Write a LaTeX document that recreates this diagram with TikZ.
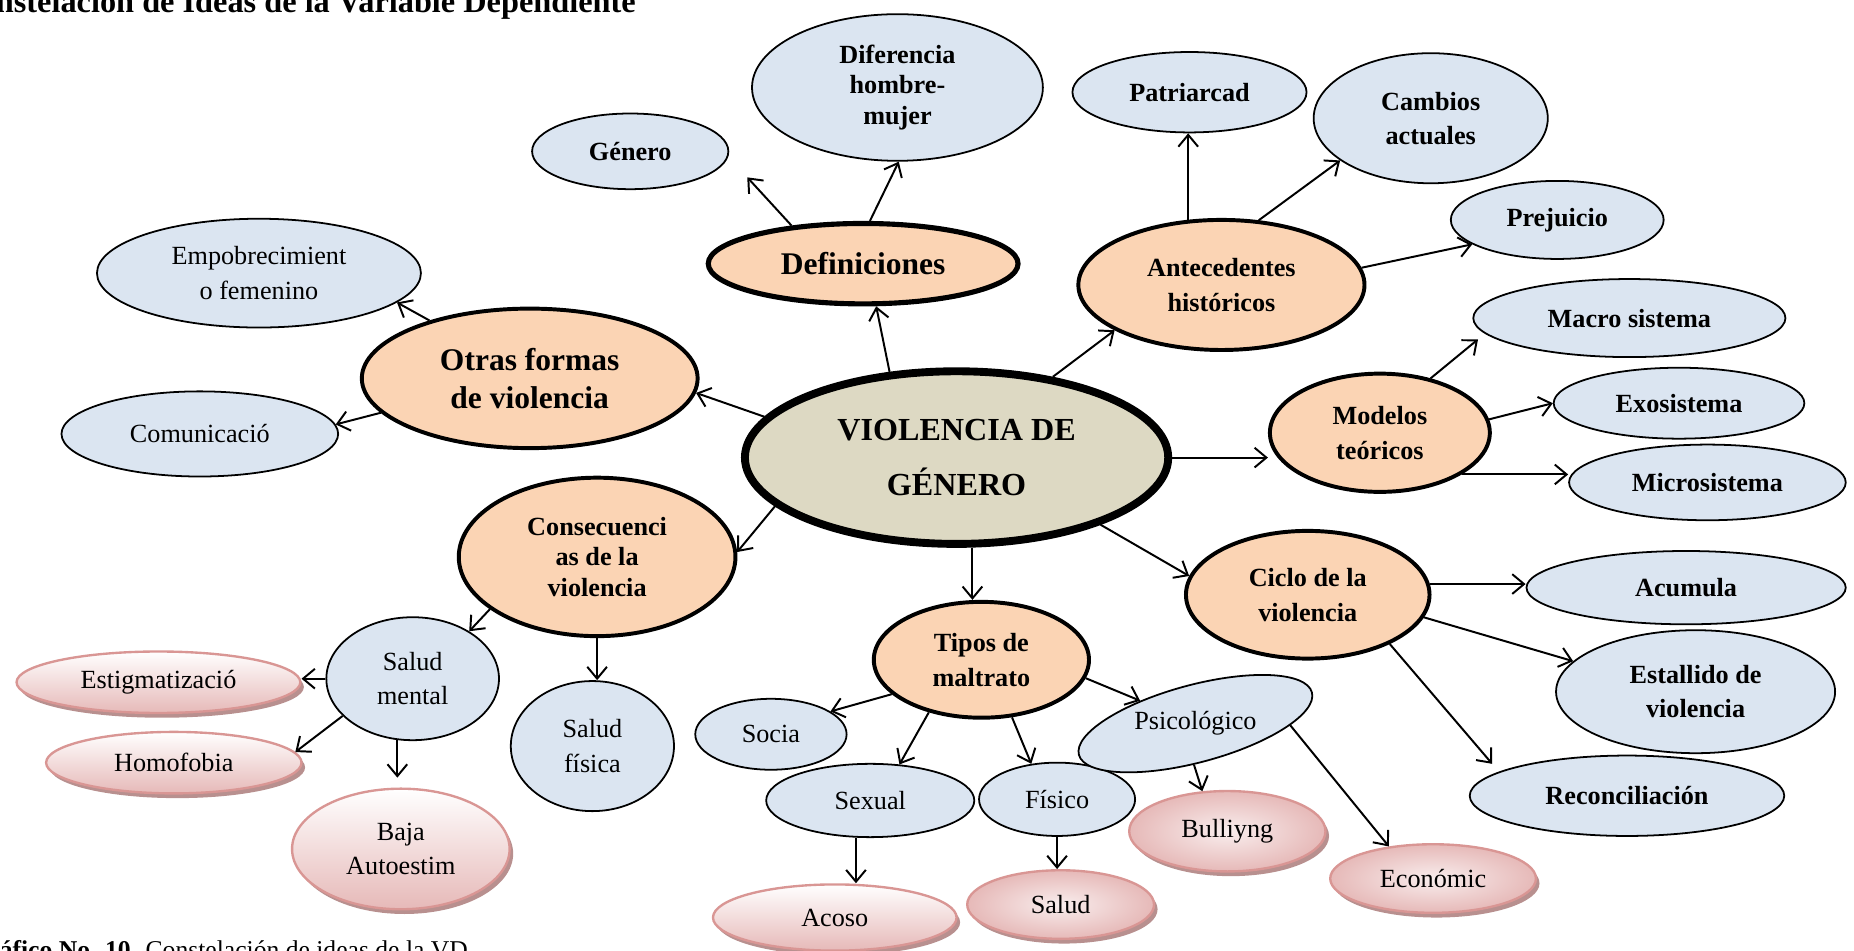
\documentclass[tikz,border=0pt]{standalone}
\usepackage{fontspec}
\setmainfont{Liberation Serif}
\usetikzlibrary{shapes.geometric,arrows.meta,shadows}

\definecolor{bluefill}{HTML}{DBE5F1}
\definecolor{orangefill}{HTML}{FBD4B4}
\definecolor{tanfill}{HTML}{DDD9C3}
\definecolor{pinkfill}{HTML}{E6B9B8}
\definecolor{pinkline}{HTML}{D99694}
\definecolor{pinkshade}{RGB}{184,144,143}

\tikzset{
  sz/.style 2 args={minimum width=2*#1*0.6pt, minimum height=2*#2*0.6pt},
  big/.style={font=\fontsize{16}{19.5}\selectfont\bfseries},
}

\begin{document}
\begin{tikzpicture}[x=0.6pt,y=-0.6pt]
\useasboundingbox (0,0) rectangle (1568,804);
\node[anchor=base east,inner sep=0,font=\fontsize{16.4}{20}\selectfont\bfseries] (title) at (538,11) {Constelación de Ideas de la Variable Dependiente};
\node[anchor=base west,inner sep=0,font=\fontsize{13}{16}\selectfont] (caption) at (-27,811) {\textbf{Gráfico No. 10.} Constelación de ideas de la VD.};

\node[ellipse,draw,line width=4pt,fill=tanfill,sz={179}{73},inner sep=0,align=center,font=\fontsize{16.3}{27.6}\selectfont\bfseries] (V) at (809,387) {VIOLENCIA DE\\GÉNERO};

\begin{scope}[every node/.style={ellipse,draw,line width=2pt,fill=orangefill,inner sep=0,align=center,font=\fontsize{13.3}{17.6}\selectfont\bfseries}]
    \node[sz={131}{34},line width=2.6pt,big] (D) at (730,223) {Definiciones};
    \node[sz={142}{59},big] (O) at (448,320) {Otras formas\\de violencia};
    \node[sz={121}{55}] (A) at (1033,241) {Antecedentes\\históricos};
    \node[sz={93}{50}] (M) at (1167,366) {Modelos\\teóricos};
    \node[sz={103}{54}] (CI) at (1106,503) {Ciclo de la\\violencia};
    \node[sz={91}{49}] (T) at (830,558) {Tipos de\\maltrato};
    \node[sz={117}{67},font=\fontsize{13.3}{15.6}\selectfont\bfseries] (CO) at (505,471) {Consecuenci\\as de la\\violencia};
\end{scope}

\begin{scope}[every node/.style={ellipse,draw,line width=0.9pt,fill=bluefill,inner sep=0,align=center,font=\fontsize{13.3}{17.4}\selectfont\bfseries}]
    \node[sz={83}{32}] (G) at (533,128) {Género};
    \node[sz={123}{62},font=\fontsize{13.3}{15.6}\selectfont\bfseries] (H) at (759,74) {Diferencia\\hombre-\\mujer};
    \node[sz={99}{34}] (P) at (1006,78) {Patriarcad};
    \node[sz={99}{55}] (K) at (1210,100) {Cambios\\actuales};
    \node[sz={90}{33}] (J) at (1317,186) {Prejuicio};
    \node[sz={132}{33}] (MA) at (1378,269) {Macro sistema};
    \node[sz={106}{30}] (EX) at (1420,341) {Exosistema};
    \node[sz={117}{32}] (MI) at (1444,408) {Microsistema};
    \node[sz={135}{31}] (AC) at (1426,497) {Acumula};
    \node[sz={118}{52}] (ES) at (1434,585) {Estallido de\\violencia};
    \node[sz={133}{34}] (RE) at (1376,673) {Reconciliación};
\end{scope}

\begin{scope}[every node/.style={ellipse,draw,line width=0.9pt,fill=bluefill,inner sep=0,align=center,font=\fontsize{13.3}{17.4}\selectfont}]
    \node[sz={137}{46}] (EM) at (219,231) {Empobrecimient\\o femenino};
    \node[sz={117}{36}] (CM) at (169,367) {Comunicació};
    \node[sz={73}{52}] (SM) at (349,574) {Salud\\mental};
    \node[sz={69}{55}] (SF) at (501,631) {Salud\\física};
    \node[sz={64}{30}] (SO) at (652,621) {Socia};
    \node[sz={88}{31}] (SX) at (736,677) {Sexual};
    \node[sz={66}{31}] (FI) at (894,676) {Físico};
    \node[sz={102}{29},rotate=15] (PS) at (1011,612) {\rotatebox{-15}{Psicológico}};
\end{scope}

\begin{scope}[every node/.style={ellipse,draw=pinkline,line width=1.2pt,top color=white,bottom color=pinkfill,drop shadow={shadow xshift=1.8pt,shadow yshift=-2.4pt,fill=pinkshade,opacity=1},inner sep=0,align=center,font=\fontsize{13.3}{17.4}\selectfont}]
    \node[sz={120}{26}] (ET) at (134,577) {Estigmatizació};
    \node[sz={108}{26}] (HO) at (147,645) {Homofobia};
    \node[sz={92}{51}] (BA) at (339,718) {Baja\\Autoestim};
    \node[sz={103}{28}] (AO) at (706,776) {Acoso};
    \node[sz={79}{29},inner color=pinkfill!25,outer color=pinkfill] (SA) at (897,765) {Salud};
    \node[sz={83}{34},inner color=pinkfill!25,outer color=pinkfill] (BU) at (1038,703) {Bulliyng};
    \node[sz={87}{29},inner color=pinkfill!25,outer color=pinkfill] (EC) at (1212,743) {Económic};
\end{scope}

\coordinate (gtip) at (632,150);
\coordinate (matip) at (1250,287);
\coordinate (retip) at (1262,646);

\begin{scope}[>={Straight Barb[length=6pt,width=10pt]},
              every edge/.style={draw,line width=1pt}]
    \path [->] (V.128) edge (D.287);
    \path [->] (D.152) edge (gtip);
    \path [->] (D.81) edge (H.271);
    \path [->] (V.40) edge (A.203);
    \path [->] (A.117) edge (A.117 |- P.south);
    \path [->] (A.60) edge (K.205);
    \path [->] (A.7) edge (J.196);
    \path [->] (V.0) edge (V.0 -| M.west);
    \path [->] (M.47) edge (matip);
    \path [->] (M.7) edge (EX.180);
    \path [->] (M.333) edge (M.333 -| MI.west);
    \path [->] (V.335) edge (CI.171);
    \path [->] (CI.5) edge (CI.5 -| AC.west);
    \path [->] (CI.349) edge (ES.166);
    \path [->] (CI.329) edge (retip);
    \path [->] (V.280) edge (V.280 |- T.north);
    \path [->] (T.201) edge (SO.21);
    \path [->] (T.225) edge (SX.51);
    \path [->] (T.298) edge (FI.126);
    \path [->] (T.350) edge (PS);
    \path [->] (PS.253) edge (BU.122);
    \path [->] (PS.344) edge (EC.144);
    \path [->] (SX.249) edge (SX.249 |- AO.north);
    \path [->] (FI.south) edge (FI.south |- SA.north);
    \path [->] (V.195) edge (CO.2);
    \path [->] (CO.206) edge (SM.40);
    \path [->] (CO.south) edge (CO.south |- SF.north);
    \path [->] (SM.west) edge (SM.west -| ET.east);
    \path [->] (SM.208) edge (HO.5);
    \path [->] (SM.256) edge [shorten >=5pt] (SM.256 |- BA.north);
    \path [->] (V.168) edge (O.355);
    \path [->] (O.150) edge (EM.348);
    \path [->] (O.193) edge (CM.4);
\end{scope}
\end{tikzpicture}
\end{document}
